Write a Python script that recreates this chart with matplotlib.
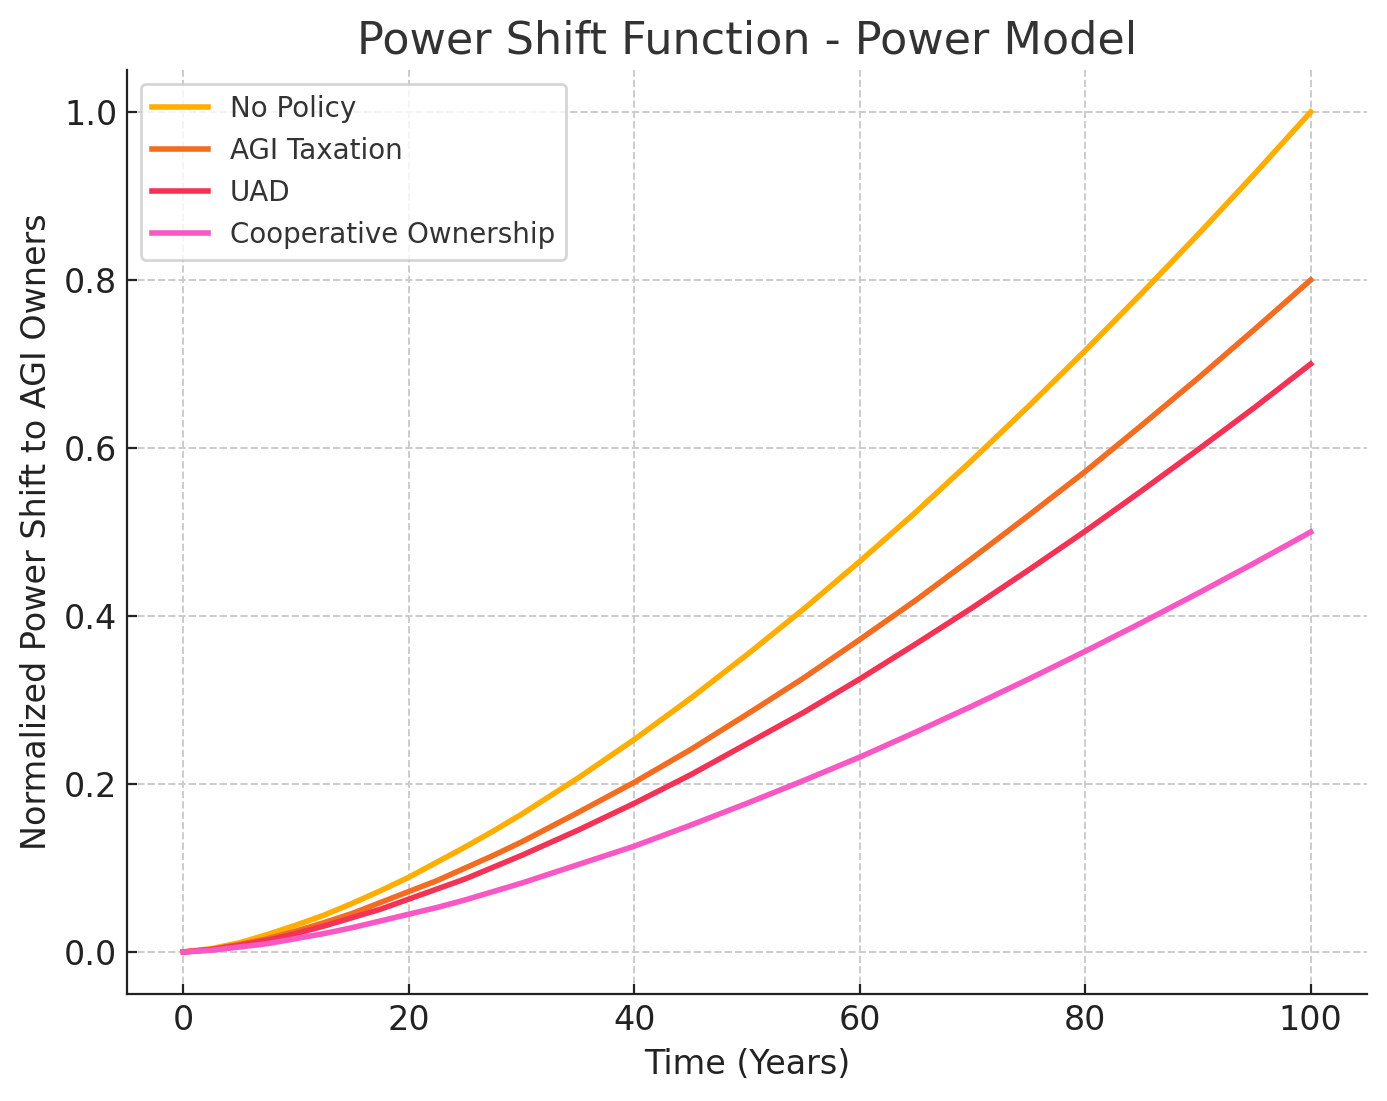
import numpy as np
import matplotlib.pyplot as plt

# dados (a cada 2.5 anos ate 30, depois a cada 5)
anos = [0, 2.5, 5, 7.5, 10, 12.5, 15, 17.5, 20, 22.5, 25, 27.5, 30,
        35, 40, 45, 50, 55, 60, 65, 70, 75, 80, 85, 90, 95, 100]

no_policy = [0.0, 0.004, 0.011, 0.021, 0.032, 0.044, 0.058, 0.073, 0.089, 0.107, 0.125, 0.144, 0.164,
             0.207, 0.253, 0.302, 0.354, 0.408, 0.465, 0.524, 0.586, 0.650, 0.716, 0.784, 0.854, 0.926, 1.0]
agi_tax = [0.0, 0.003, 0.009, 0.016, 0.025, 0.035, 0.046, 0.059, 0.072, 0.085, 0.100, 0.115, 0.131,
           0.166, 0.202, 0.241, 0.283, 0.326, 0.372, 0.419, 0.469, 0.520, 0.572, 0.627, 0.683, 0.741, 0.8]
uad = [0.0, 0.003, 0.008, 0.014, 0.022, 0.031, 0.041, 0.051, 0.063, 0.075, 0.087, 0.101, 0.115,
       0.145, 0.177, 0.211, 0.248, 0.285, 0.325, 0.367, 0.410, 0.455, 0.501, 0.549, 0.598, 0.648, 0.7]
coop = [0.0, 0.002, 0.006, 0.010, 0.016, 0.022, 0.029, 0.037, 0.045, 0.053, 0.062, 0.072, 0.082,
        0.104, 0.126, 0.151, 0.177, 0.204, 0.232, 0.262, 0.293, 0.325, 0.358, 0.392, 0.427, 0.463, 0.5]

nomes = ["No Policy", "AGI Taxation", "UAD", "Cooperative Ownership"]
cores = ["#FFAE00", "#F26C22", "#F23355", "#F758C4"]

fig, ax = plt.subplots(figsize=(6.935, 5.505), dpi=200)

for serie, nome, cor in zip([no_policy, agi_tax, uad, coop], nomes, cores):
    ax.plot(anos, serie, color=cor, lw=2, label=nome)

ax.set_title("Power Shift Function - Power Model", fontsize=16, color="#333333")
ax.set_xlabel("Time (Years)", fontsize=12, color="#222222")
ax.set_ylabel("Normalized Power Shift to AGI Owners", fontsize=12, color="#222222")
ax.grid(True, ls="--", color="#cccccc", lw=0.7)
ax.tick_params(direction="in", labelsize=12, colors="#222222")
ax.spines["top"].set_visible(False)
ax.spines["right"].set_visible(False)
for s in ["left", "bottom"]:
    ax.spines[s].set_color("#222222")
leg = ax.legend(loc="upper left", fontsize=10)
for t in leg.get_texts():
    t.set_color("#333333")

fig.subplots_adjust(left=0.0916, right=0.9856, top=0.9364, bottom=0.0972)
plt.savefig("out.png", dpi=200)
